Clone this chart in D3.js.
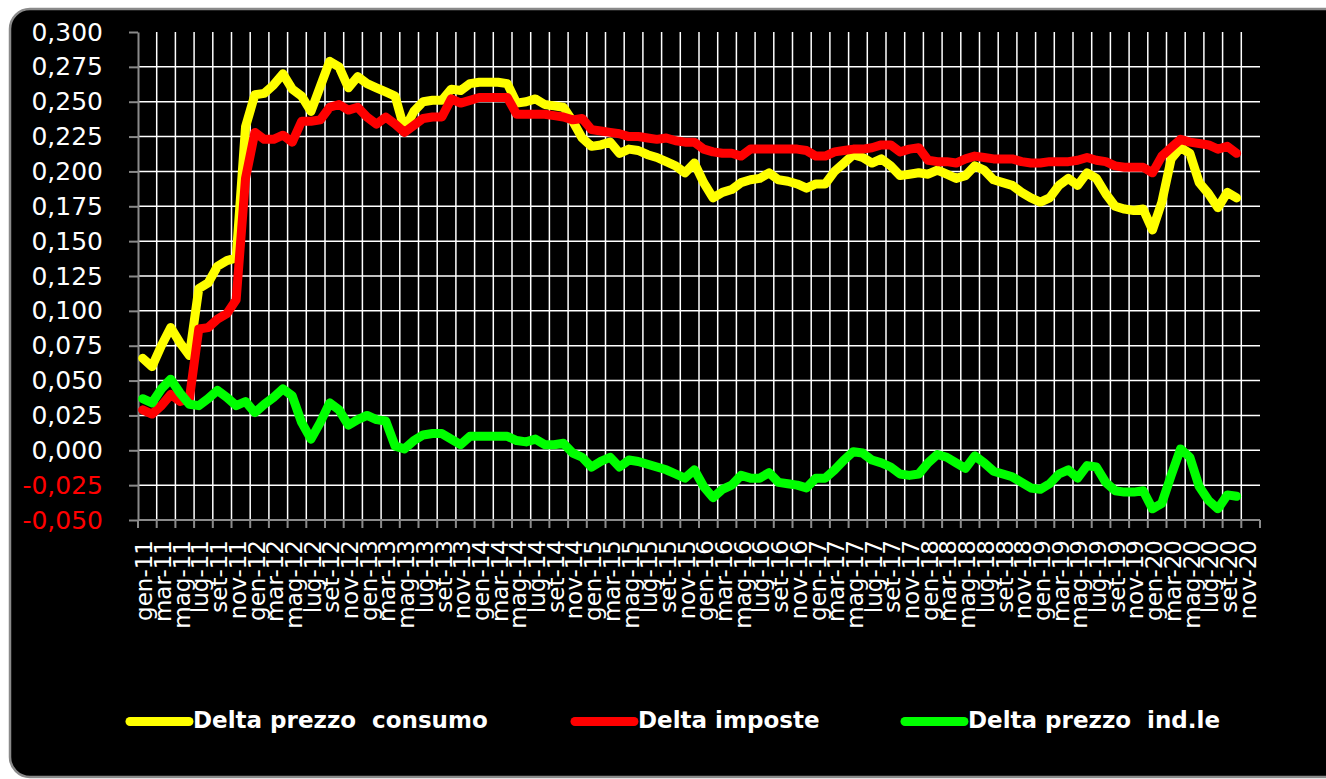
<!DOCTYPE html>
<html>
<head>
<meta charset="utf-8">
<script src="https://cdn.jsdelivr.net/npm/d3@7"></script>
<style>
  body { margin: 0; background: #ffffff; }
  svg { display: block; }
  text { font-family: "DejaVu Sans", Verdana, sans-serif; }
</style>
</head>
<body>
<svg id="chart" width="1326" height="779"></svg>
<script>

// Mesi e anni (asse categorie)
var mesi = ['gen', 'feb', 'mar', 'apr', 'mag', 'giu', 'lug', 'ago', 'set', 'ott', 'nov', 'dic'];
var anni = ['11', '12', '13', '14', '15', '16', '17', '18', '19', '20'];

// Tick asse valori
var yTicks = [-0.05, -0.025, 0, 0.025, 0.05, 0.075, 0.1, 0.125, 0.15, 0.175, 0.2, 0.225, 0.25, 0.275, 0.3];

// Delta prezzo consumo (gen-11 .. ott-20)
var prezzoConsumo = [
  0.066, 0.060, 0.075, 0.088, 0.077, 0.068, 0.116, 0.120, 0.132, 0.136, 0.138, 0.232,
  0.255, 0.256, 0.262, 0.270, 0.259, 0.254, 0.243, 0.261, 0.279, 0.275, 0.260, 0.268,
  0.263, 0.260, 0.257, 0.254, 0.230, 0.243, 0.250, 0.251, 0.251, 0.259, 0.258, 0.263,
  0.264, 0.264, 0.264, 0.263, 0.249, 0.250, 0.252, 0.248, 0.247, 0.246, 0.236, 0.224,
  0.218, 0.219, 0.221, 0.213, 0.216, 0.215, 0.212, 0.210, 0.207, 0.204, 0.199, 0.206,
  0.192, 0.181, 0.185, 0.187, 0.192, 0.194, 0.195, 0.199, 0.194, 0.193, 0.191, 0.188,
  0.191, 0.191, 0.200, 0.206, 0.212, 0.210, 0.206, 0.209, 0.204, 0.197, 0.198, 0.199,
  0.198, 0.201, 0.198, 0.195, 0.197, 0.204, 0.201, 0.194, 0.192, 0.190, 0.185, 0.181,
  0.178, 0.181, 0.190, 0.195, 0.190, 0.199, 0.195, 0.184, 0.175, 0.173, 0.172, 0.173,
  0.158, 0.178, 0.209, 0.217, 0.213, 0.192, 0.184, 0.174, 0.185, 0.181
];

// Delta imposte
var imposte = [
  0.029, 0.026, 0.032, 0.040, 0.035, 0.037, 0.087, 0.088, 0.094, 0.098, 0.108, 0.195,
  0.228, 0.223, 0.223, 0.226, 0.221, 0.236, 0.236, 0.237, 0.246, 0.248, 0.244, 0.246,
  0.239, 0.234, 0.239, 0.234, 0.228, 0.233, 0.238, 0.239, 0.239, 0.252, 0.249, 0.251,
  0.253, 0.253, 0.253, 0.253, 0.241, 0.241, 0.241, 0.241, 0.240, 0.239, 0.237, 0.238,
  0.230, 0.229, 0.228, 0.227, 0.225, 0.225, 0.224, 0.223, 0.224, 0.222, 0.221, 0.221,
  0.216, 0.214, 0.213, 0.213, 0.211, 0.216, 0.216, 0.216, 0.216, 0.216, 0.216, 0.215,
  0.211, 0.211, 0.214, 0.215, 0.216, 0.216, 0.217, 0.219, 0.219, 0.214, 0.216, 0.217,
  0.208, 0.207, 0.207, 0.206, 0.209, 0.211, 0.210, 0.209, 0.209, 0.209, 0.207, 0.206,
  0.206, 0.207, 0.207, 0.207, 0.208, 0.210, 0.208, 0.207, 0.204, 0.203, 0.203, 0.203,
  0.199, 0.211, 0.217, 0.223, 0.221, 0.220, 0.219, 0.216, 0.218, 0.213
];

// Delta prezzo ind.le
var prezzoIndle = [
  0.037, 0.034, 0.044, 0.051, 0.041, 0.033, 0.032, 0.037, 0.043, 0.038, 0.032, 0.035,
  0.027, 0.033, 0.038, 0.044, 0.039, 0.020, 0.008, 0.020, 0.034, 0.029, 0.018, 0.022,
  0.025, 0.022, 0.021, 0.003, 0.001, 0.007, 0.011, 0.012, 0.012, 0.008, 0.004, 0.010,
  0.010, 0.010, 0.010, 0.010, 0.007, 0.006, 0.008, 0.004, 0.004, 0.005, -0.002, -0.005,
  -0.012, -0.008, -0.005, -0.012, -0.007, -0.008, -0.010, -0.012, -0.014, -0.017, -0.020, -0.014,
  -0.026, -0.034, -0.028, -0.025, -0.018, -0.020, -0.020, -0.016, -0.023, -0.024, -0.025, -0.027,
  -0.020, -0.020, -0.014, -0.007, -0.001, -0.002, -0.007, -0.009, -0.012, -0.017, -0.018, -0.017,
  -0.009, -0.003, -0.005, -0.009, -0.013, -0.004, -0.009, -0.015, -0.017, -0.019, -0.023, -0.027,
  -0.028, -0.024, -0.017, -0.014, -0.020, -0.011, -0.012, -0.023, -0.029, -0.030, -0.030, -0.029,
  -0.042, -0.038, -0.018, 0.001, -0.005, -0.026, -0.036, -0.042, -0.032, -0.033
];

var serie = [
  { nome: 'Delta prezzo  consumo', valori: prezzoConsumo, colore: '#ffff00' },
  { nome: 'Delta imposte', valori: imposte, colore: '#ff0000' },
  { nome: 'Delta prezzo  ind.le', valori: prezzoIndle, colore: '#00ff00' }
];

// Categorie gen-11 .. dic-20
var categorie = [];
anni.forEach(function(a) {
  mesi.forEach(function(m) { categorie.push(m + '-' + a); });
});

var svg = d3.select('#chart');

// Cornice arrotondata
svg.append('rect')
    .attr('x', 10).attr('y', 9)
    .attr('width', 1345).attr('height', 768)
    .attr('rx', 20)
    .attr('fill', '#000000')
    .attr('stroke', '#8a8a8a')
    .attr('stroke-width', 2.5);

var plotLeft = 138, plotRight = 1260, plotTop = 32, plotBottom = 520;

var x = d3.scaleBand()
    .domain(categorie)
    .range([plotLeft, plotRight]);

var y = d3.scaleLinear()
    .domain([-0.05, 0.3])
    .range([plotBottom, plotTop]);

function fmt(v) {
  var s = Math.abs(v).toFixed(3).replace('.', ',');
  return (v < -1e-9 ? '-' : '') + s;
}

// Griglia orizzontale
svg.append('g')
  .selectAll('line')
  .data(yTicks.filter(function(v) { return v > -0.05 && v < 0.29; }))
  .enter().append('line')
    .attr('x1', plotLeft).attr('x2', plotRight)
    .attr('y1', function(d) { return y(d); })
    .attr('y2', function(d) { return y(d); })
    .attr('stroke', '#ffffff')
    .attr('stroke-width', 1.5);

// Griglia verticale (ogni 2 mesi)
var catPari = categorie.filter(function(c, i) { return i % 2 === 0; });
svg.append('g')
  .selectAll('line')
  .data(catPari.slice(1))
  .enter().append('line')
    .attr('x1', function(d) { return x(d); })
    .attr('x2', function(d) { return x(d); })
    .attr('y1', plotTop).attr('y2', plotBottom)
    .attr('stroke', '#ffffff')
    .attr('stroke-width', 1.5);

// Asse valori
var yAxis = d3.axisLeft(y)
    .tickValues(yTicks)
    .tickSize(9)
    .tickSizeOuter(0)
    .tickPadding(26)
    .tickFormat(fmt);

var gy = svg.append('g')
    .attr('transform', 'translate(' + plotLeft + ',0)')
    .call(yAxis);
gy.select('.domain').attr('stroke', '#8a8a8a').attr('stroke-width', 2);
gy.selectAll('.tick line').attr('stroke', '#8a8a8a').attr('stroke-width', 2);
gy.selectAll('.tick text')
    .attr('font-size', 25)
    .attr('font-family', '"DejaVu Sans", Verdana, sans-serif')
    .attr('fill', function(d) { return d < 0 ? '#ff0000' : '#ffffff'; });

// Asse categorie: linea e tacche
var xAxisLine = svg.append('g');
xAxisLine.append('line')
    .attr('x1', plotLeft).attr('x2', plotRight)
    .attr('y1', plotBottom).attr('y2', plotBottom)
    .attr('stroke', '#8a8a8a').attr('stroke-width', 2);
xAxisLine.selectAll('line.tacca')
  .data(catPari.map(function(d) { return x(d); }).concat([plotRight]))
  .enter().append('line')
    .attr('class', 'tacca')
    .attr('x1', function(d) { return d; })
    .attr('x2', function(d) { return d; })
    .attr('y1', plotBottom).attr('y2', plotBottom + 8)
    .attr('stroke', '#8a8a8a').attr('stroke-width', 2);

// Etichette categorie (una ogni 2 mesi, fino a nov-20)
var xAxis = d3.axisBottom(x)
    .tickValues(catPari)
    .tickSize(0)
    .tickSizeOuter(0);

var gx = svg.append('g')
    .attr('transform', 'translate(0,' + plotBottom + ')')
    .call(xAxis);
gx.select('.domain').remove();
gx.selectAll('.tick text')
    .attr('font-size', 23)
    .attr('font-family', '"DejaVu Sans", Verdana, sans-serif')
    .attr('fill', '#ffffff')
    .attr('text-anchor', 'end')
    .attr('transform', 'rotate(-90)')
    .attr('x', -20)
    .attr('y', 0)
    .attr('dy', '0.42em');

// Linee delle serie
var line = d3.line()
    .x(function(d, i) { return x(categorie[i]) + x.bandwidth() / 2; })
    .y(function(d) { return y(d); });

svg.append('g')
  .selectAll('path')
  .data(serie)
  .enter().append('path')
    .attr('d', function(s) { return line(s.valori); })
    .attr('fill', 'none')
    .attr('stroke', function(s) { return s.colore; })
    .attr('stroke-width', 9)
    .attr('stroke-linejoin', 'round')
    .attr('stroke-linecap', 'round');

// Legenda
var legendX = [130, 575, 905];
var leg = svg.append('g')
  .selectAll('g')
  .data(serie)
  .enter().append('g')
    .attr('transform', function(d, i) { return 'translate(' + legendX[i] + ',721.5)'; });

leg.append('line')
    .attr('x1', 0).attr('x2', 59)
    .attr('stroke', function(d) { return d.colore; })
    .attr('stroke-width', 9)
    .attr('stroke-linecap', 'round');

leg.append('text')
    .attr('x', 63)
    .attr('y', 6.5)
    .attr('xml:space', 'preserve')
    .style('white-space', 'pre')
    .attr('font-size', 23)
    .attr('font-weight', 'bold')
    .attr('fill', '#ffffff')
    .text(function(d) { return d.nome; });

</script>
</body>
</html>
